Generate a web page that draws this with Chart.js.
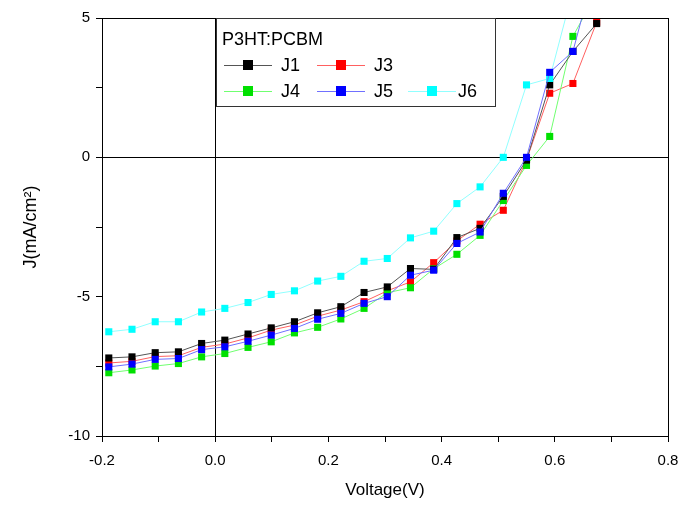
<!DOCTYPE html>
<html>
<head>
<meta charset="utf-8">
<script src="https://cdn.jsdelivr.net/npm/chart.js@4"></script>
<style>
  body { margin: 0; background: #fff; }
</style>
</head>
<body>
<canvas id="ivChart" width="682" height="505"></canvas>
<script>
// voltage sweep (V)
const voltage = [-0.188, -0.147, -0.106, -0.065, -0.024, 0.017, 0.058, 0.099, 0.140, 0.181, 0.222,
                 0.263, 0.304, 0.345, 0.386, 0.427, 0.468, 0.509, 0.550, 0.591, 0.632, 0.674];

// current density (mA/cm2) for each device
const j1 = [-7.20, -7.16, -7.01, -6.98, -6.68, -6.56, -6.34, -6.12, -5.90, -5.58, -5.36,
            -4.85, -4.65, -3.99, -4.02, -2.88, -2.55, -1.40, -0.10, 2.60, 3.80, 4.80];
const j3 = [-7.38, -7.32, -7.15, -7.12, -6.82, -6.70, -6.48, -6.20, -6.02, -5.70, -5.48,
            -5.18, -4.79, -4.47, -3.78, -3.00, -2.40, -1.90, -0.10, 2.30, 2.65, 4.85];
const j4 = [-7.73, -7.63, -7.49, -7.40, -7.16, -7.04, -6.82, -6.62, -6.30, -6.10, -5.80,
            -5.42, -4.86, -4.68, -4.00, -3.48, -2.80, -1.55, -0.29, 0.75, 4.34, 5.90];
const j5 = [-7.52, -7.42, -7.25, -7.22, -6.90, -6.80, -6.60, -6.38, -6.14, -5.81, -5.60,
            -5.24, -5.00, -4.23, -4.05, -3.09, -2.68, -1.29, 0.00, 3.05, 3.80, 7.00];
const j6 = [-6.26, -6.17, -5.90, -5.90, -5.55, -5.42, -5.21, -4.92, -4.79, -4.44, -4.27,
            -3.73, -3.63, -2.89, -2.65, -1.66, -1.06, 0.00, 2.60, 2.83, 6.00, 8.00];

const xTicks = [-0.2, 0.0, 0.2, 0.4, 0.6, 0.8];
const yTicks = [-10, -5, 0, 5];

const FONT = "'Liberation Sans', Arial, sans-serif";

function pts(ys) {
    return voltage.map((v, i) => ({ x: v, y: ys[i] }));
}

function series(label, ys, line, fill, order) {
    return {
        label: label,
        data: pts(ys),
        borderColor: line,
        borderWidth: 1,
        backgroundColor: fill,
        pointBackgroundColor: fill,
        pointBorderWidth: 0,
        pointStyle: 'rect',
        pointRadius: 5,
        order: order
    };
}

// frame + custom two-row legend
const framePlugin = {
    id: 'frame',
    afterDraw(chart) {
        const ctx = chart.ctx;
        const a = chart.chartArea;
        ctx.save();
        ctx.strokeStyle = '#000';
        ctx.lineWidth = 1;
        ctx.strokeRect(a.left + 0.5, a.top + 0.5, a.right - a.left, a.bottom - a.top);

        // legend box
        const bx = 216, by = a.top, bw = 279, bh = 88;
        ctx.fillStyle = '#fff';
        ctx.fillRect(bx, by, bw, bh);
        ctx.strokeStyle = '#333';
        ctx.strokeRect(bx + 0.5, by + 0.5, bw, bh);

        ctx.fillStyle = '#000';
        ctx.font = '18px ' + FONT;
        ctx.textBaseline = 'middle';
        ctx.fillText('P3HT:PCBM', 222, by + 22);

        const ds = chart.data.datasets;
        const slots = [
            { x: 224, y: by + 47 }, { x: 317, y: by + 47 },
            { x: 224, y: by + 73 }, { x: 317, y: by + 73 }, { x: 408, y: by + 73 }
        ];
        ds.forEach((d, i) => {
            const s = slots[i];
            ctx.strokeStyle = d.borderColor;
            ctx.beginPath();
            ctx.moveTo(s.x, s.y + 0.5);
            ctx.lineTo(s.x + 48, s.y + 0.5);
            ctx.stroke();
            ctx.fillStyle = d.backgroundColor;
            ctx.fillRect(s.x + 19, s.y - 5, 10, 10);
            ctx.fillStyle = '#000';
            ctx.fillText(d.label, s.x + (i === 4 ? 50 : 57), s.y + 1);
        });
        ctx.restore();
    }
};

const ctx = document.getElementById('ivChart').getContext('2d');

new Chart(ctx, {
    type: 'line',
    data: {
        datasets: [
            series('J1', j1, '#555555', '#000000', 2),
            series('J3', j3, '#ff6060', '#ff0000', 4),
            series('J4', j4, '#70ff70', '#00e000', 3),
            series('J5', j5, '#7070ff', '#0000ff', 0),
            series('J6', j6, '#90ffff', '#00ffff', 1)
        ]
    },
    options: {
        responsive: false,
        animation: false,
        layout: { padding: { top: 18, right: 14, left: 16, bottom: 0 } },
        plugins: {
            legend: { display: false },
            tooltip: { enabled: false }
        },
        scales: {
            x: {
                type: 'linear',
                min: -0.2,
                max: 0.8,
                ticks: {
                    stepSize: 0.1,
                    autoSkip: false,
                    maxRotation: 0,
                    color: '#000',
                    font: { family: FONT, size: 15 },
                    padding: 10,
                    callback: (v) => {
                        const hit = xTicks.find(t => Math.abs(t - v) < 1e-6);
                        return hit === undefined ? '' : hit.toFixed(1);
                    }
                },
                grid: {
                    color: (c) => Math.abs(c.tick.value) < 1e-6 ? '#000' : 'transparent',
                    tickColor: '#000',
                    tickLength: 6,
                    lineWidth: 1
                },
                border: { display: false },
                title: {
                    display: true,
                    text: 'Voltage(V)',
                    color: '#000',
                    font: { family: FONT, size: 17 },
                    padding: { top: 4 }
                },
                afterFit: (s) => { s.height = 69; s.paddingRight = 0; s.paddingLeft = 0; }
            },
            y: {
                min: -10,
                max: 5,
                ticks: {
                    stepSize: 2.5,
                    autoSkip: false,
                    color: '#000',
                    font: { family: FONT, size: 15 },
                    padding: 6,
                    callback: (v) => yTicks.includes(v) ? String(v) : ''
                },
                grid: {
                    color: (c) => c.tick.value === 0 ? '#000' : 'transparent',
                    tickColor: '#000',
                    tickLength: 6,
                    lineWidth: 1
                },
                border: { display: false },
                title: {
                    display: true,
                    text: 'J(mA/cm²)',
                    color: '#000',
                    font: { family: FONT, size: 18 },
                    padding: { bottom: 0 }
                },
                afterFit: (s) => { s.width = 86; }
            }
        }
    },
    plugins: [framePlugin]
});
</script>
</body>
</html>
